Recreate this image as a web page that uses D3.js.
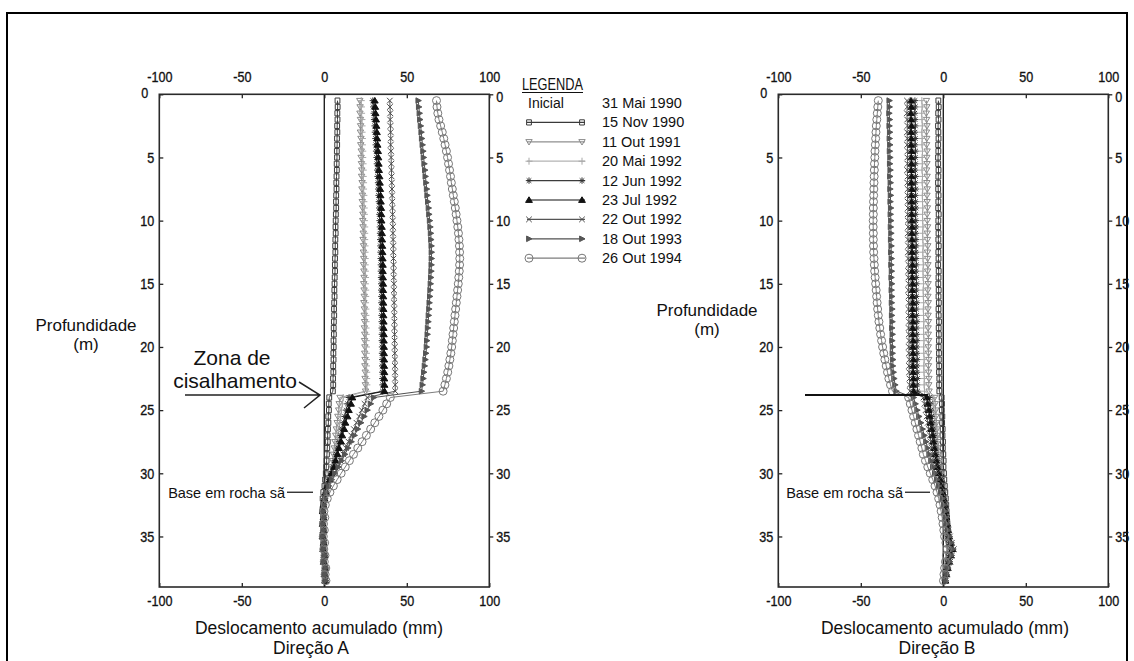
<!DOCTYPE html>
<html><head><meta charset="utf-8">
<script src="https://cdn.jsdelivr.net/npm/d3@7"></script>
<style>
body{margin:0;background:#fff;}
svg{display:block;}
</style></head><body>
<svg id="c" width="1134" height="661"></svg>
<script>
// ---------------- DATA ----------------
const depths = [0.5,1,1.5,2,2.5,3,3.5,4,4.5,5,
 5.5,6,6.5,7,7.5,8,8.5,9,9.5,10,
 10.5,11,11.5,12,12.5,13,13.5,14,14.5,15,
 15.5,16,16.5,17,17.5,18,18.5,19,19.5,20,
 20.5,21,21.5,22,22.5,23,23.5,
 24,24.5,25,25.5,26,26.5,27,27.5,28,28.5,
 29,29.5,30,30.5,31,31.5,32,32.5,33,33.5,
 34,34.5,35,35.5,36,36.5,37,37.5,38,38.5];

const seriesNames = ["15 Nov 1990","11 Out 1991","20 Mai 1992","12 Jun 1992","23 Jul 1992","22 Out 1992","18 Out 1993","26 Out 1994"];
const inicialName = "31 Mai 1990";
const inicialDepths = [0, 39];
const inicialValues = [0, 0];

const xTicks = [-100,-50,0,50,100];
const yTicks = [0,5,10,15,20,25,30,35];

// Direction A (mm)
const a_nov90 = [8.0,8.1,7.9,8.0,7.8,7.9,7.7,7.8,7.6,7.7,
 7.5,7.6,7.4,7.3,7.4,7.2,7.1,7.2,7.0,6.9,
 6.8,6.9,6.7,6.6,6.7,6.5,6.4,6.5,6.3,6.2,
 6.1,6.2,6.0,5.9,6.0,5.8,5.7,5.8,5.6,5.7,
 5.5,5.6,5.4,5.5,5.3,5.4,5.2,
 3.0,2.7,2.8,2.4,2.5,2.2,2.0,2.1,1.8,1.6,
 1.4,1.2,0.9,0.5,0.1,-0.6,-1.0,-0.7,-1.2,-0.8,
 -1.1,-0.7,-1.0,-0.5,-0.8,0.1,-0.3,0.4,0.0,0.3];
const a_out91 = [21.5,21.7,21.6,21.9,22.0,21.9,22.2,22.1,22.4,22.3,
 22.5,22.7,22.6,22.9,22.8,23.1,23.0,23.2,23.4,23.3,
 23.5,23.6,23.5,23.8,23.7,23.9,23.8,24.0,24.1,23.9,
 24.1,24.2,24.0,24.3,24.2,24.4,24.3,24.5,24.4,24.6,
 24.5,24.7,24.6,24.8,24.7,24.9,25.0,
 9.5,9.0,8.7,8.2,7.8,7.3,6.9,6.4,6.0,5.5,
 5.0,4.4,3.7,3.0,2.1,1.2,0.4,-0.2,-0.6,-0.3,
 -0.8,-0.4,-0.9,-0.3,-0.6,0.1,-0.4,0.5,0.2,0.6];
const a_mai92 = [22.4,22.5,22.6,22.8,22.9,22.9,23.1,23.1,23.3,23.3,
 23.5,23.6,23.6,23.8,23.8,24.0,24.0,24.2,24.3,24.3,
 24.5,24.5,24.5,24.7,24.7,24.8,24.8,24.9,25.0,24.9,
 25.1,25.1,25.0,25.2,25.2,25.3,25.3,25.4,25.4,25.5,
 25.5,25.6,25.6,25.7,25.7,25.8,25.9,
 11.5,11.0,10.4,9.9,9.3,8.8,8.2,7.7,7.1,6.6,
 6.0,5.3,4.5,3.6,2.6,1.5,0.5,-0.1,-0.5,-0.2,
 -0.7,-0.3,-0.8,-0.2,-0.5,0.2,-0.3,0.6,0.3,0.7];
const a_jun92 = [29.4,29.7,30.0,30.2,30.5,30.7,31.0,31.2,31.4,31.7,
 31.9,32.1,32.3,32.6,32.7,32.9,33.1,33.3,33.4,33.5,
 33.7,33.8,33.9,34.0,34.1,34.2,34.3,34.3,34.4,34.5,
 34.5,34.6,34.6,34.7,34.7,34.8,34.8,34.9,34.9,35.0,
 35.0,35.1,35.1,35.2,35.2,35.3,35.3,
 15.0,14.1,13.4,12.4,11.7,10.7,10.0,9.0,8.3,7.3,
 6.5,5.4,4.2,3.0,1.8,0.8,0.0,-0.5,-0.9,-0.4,
 -1.0,-0.5,-1.0,-0.3,-0.7,0.1,-0.4,0.5,0.2,0.6];
const a_jul92 = [30.6,30.9,31.1,31.4,31.6,31.9,32.1,32.3,32.6,32.8,
 33.0,33.2,33.5,33.7,33.9,34.1,34.3,34.5,34.6,34.7,
 34.9,35.0,35.1,35.2,35.3,35.4,35.5,35.5,35.6,35.7,
 35.7,35.8,35.8,35.9,35.9,36.0,36.0,36.1,36.1,36.2,
 36.2,36.3,36.3,36.4,36.4,36.5,36.5,
 17.0,16.2,14.9,14.1,12.8,12.1,10.9,10.2,8.9,8.1,
 6.9,5.9,4.4,3.3,1.9,0.9,0.1,-0.6,-0.9,-0.5,
 -1.0,-0.6,-1.1,-0.4,-0.7,0.0,-0.4,0.5,0.1,0.5];
const a_out92 = [39.7,39.8,40.0,39.9,40.1,40.2,40.3,40.2,40.4,40.5,
 40.6,40.7,40.8,40.9,41.0,41.1,41.2,41.3,41.4,41.5,
 41.6,41.6,41.7,41.8,41.8,41.9,42.0,42.0,42.1,42.2,
 42.2,42.3,42.3,42.4,42.4,42.5,42.5,42.6,42.6,42.7,
 42.7,42.8,42.8,42.9,42.9,43.0,43.0,
 26.0,24.4,22.7,21.1,19.5,17.9,16.3,14.7,13.1,11.5,
 9.9,8.1,6.2,4.3,2.4,1.0,0.2,-0.4,-0.8,-0.3,
 -0.9,-0.4,-1.0,-0.2,-0.6,0.2,-0.3,0.7,0.3,0.8];
const a_out93 = [57.0,57.3,57.7,58.0,58.4,58.8,59.1,59.5,59.9,60.2,
 60.6,61.0,61.3,61.7,62.1,62.4,62.8,63.2,63.5,63.9,
 64.2,64.5,64.7,64.9,65.0,65.0,64.9,64.8,64.6,64.4,
 64.2,64.0,63.7,63.5,63.2,63.0,62.7,62.5,62.2,62.0,
 61.6,61.2,60.8,60.4,60.0,59.5,59.0,
 30.0,28.1,26.1,24.2,22.2,20.3,18.3,16.4,14.4,12.5,
 10.5,8.5,6.4,4.4,2.6,1.2,0.3,-0.3,-0.7,-0.2,
 -0.8,-0.3,-0.9,-0.1,-0.5,0.3,-0.2,0.8,0.4,0.9];
const a_out94 = [68.0,68.3,68.8,69.5,70.5,71.5,72.4,73.2,74.0,74.7,
 75.3,75.9,76.5,77.0,77.6,78.2,78.8,79.4,79.9,80.4,
 80.9,81.3,81.6,81.9,82.0,82.1,82.0,81.8,81.5,81.2,
 80.8,80.4,80.0,79.6,79.2,78.8,78.4,78.0,77.6,77.2,
 76.7,76.1,75.5,74.8,74.0,73.1,72.0,
 40.0,37.8,35.5,33.1,30.6,28.1,25.5,22.9,20.3,17.7,
 15.2,12.7,10.2,7.8,5.5,3.4,1.8,0.6,-0.2,0.3,
 -0.5,0.0,-0.6,0.2,-0.3,0.4,0.0,0.9,0.5,1.0];

// Direction B (mm)
const b_nov90 = [-3.0,-2.8,-3.1,-2.9,-3.2,-3.0,-2.9,-3.1,-3.0,-3.2,
 -3.1,-2.9,-3.0,-3.2,-3.1,-2.9,-3.0,-3.1,-2.8,-3.0,
 -3.1,-2.9,-3.0,-2.8,-3.0,-2.9,-3.1,-2.8,-2.9,-3.0,
 -2.8,-2.9,-2.7,-2.9,-2.8,-2.6,-2.8,-2.7,-2.6,-2.8,
 -2.6,-2.7,-2.5,-2.6,-2.4,-2.5,-2.4,
 -1.0,-0.8,-0.9,-0.6,-0.7,-0.4,-0.5,-0.2,-0.3,0.0,
 0.2,0.1,0.4,0.6,0.9,1.2,1.5,1.8,2.0,2.3,
 2.5,2.8,3.0,3.4,3.8,3.2,2.6,2.0,1.4,1.0];
const b_out91 = [-10.2,-10.0,-10.3,-10.1,-9.9,-10.2,-10.0,-10.1,-9.8,-10.0,
 -9.9,-10.1,-9.8,-10.0,-9.7,-9.9,-9.8,-9.6,-9.8,-9.7,
 -9.5,-9.7,-9.6,-9.4,-9.6,-9.5,-9.3,-9.5,-9.4,-9.2,
 -9.4,-9.3,-9.1,-9.3,-9.2,-9.0,-9.2,-9.1,-8.9,-9.1,
 -9.0,-8.8,-9.0,-8.9,-8.7,-8.8,-8.6,
 -5.2,-4.9,-4.6,-4.4,-4.1,-3.8,-3.5,-3.3,-3.0,-2.7,
 -2.3,-1.9,-1.4,-0.9,-0.4,0.1,0.5,0.9,1.2,1.5,
 1.8,2.1,2.4,2.9,3.4,2.8,2.2,1.6,1.1,0.7];
const b_mai92 = [-13.0,-12.8,-13.1,-12.9,-12.7,-13.0,-12.8,-12.9,-12.6,-12.8,
 -12.7,-12.9,-12.6,-12.8,-12.5,-12.7,-12.6,-12.4,-12.6,-12.5,
 -12.3,-12.5,-12.4,-12.2,-12.4,-12.3,-12.1,-12.3,-12.2,-12.0,
 -12.2,-12.1,-11.9,-12.1,-12.0,-11.8,-12.0,-11.9,-11.7,-11.9,
 -11.8,-11.6,-11.8,-11.7,-11.5,-11.6,-11.4,
 -6.5,-6.1,-5.8,-5.4,-5.1,-4.7,-4.4,-4.0,-3.7,-3.3,
 -2.8,-2.3,-1.8,-1.2,-0.6,0.0,0.5,1.0,1.3,1.7,
 2.0,2.4,2.8,3.4,4.0,3.3,2.6,1.9,1.3,0.9];
const b_jun92 = [-17.2,-17.0,-17.3,-17.1,-16.9,-17.2,-17.0,-17.1,-16.8,-17.0,
 -16.9,-17.1,-16.8,-17.0,-16.7,-16.9,-16.8,-16.6,-16.8,-16.7,
 -16.5,-16.7,-16.6,-16.4,-16.6,-16.5,-16.3,-16.5,-16.4,-16.2,
 -16.4,-16.3,-16.1,-16.3,-16.2,-16.0,-16.2,-16.1,-15.9,-16.1,
 -16.0,-15.8,-16.0,-15.9,-15.7,-15.8,-15.6,
 -8.5,-8.0,-7.6,-7.1,-6.7,-6.2,-5.8,-5.3,-4.9,-4.4,
 -3.8,-3.2,-2.5,-1.8,-1.1,-0.4,0.2,0.8,1.2,1.6,
 2.0,2.5,3.0,3.8,4.6,3.8,3.0,2.2,1.5,1.0];
const b_jul92 = [-19.6,-19.4,-19.7,-19.5,-19.3,-19.6,-19.4,-19.5,-19.2,-19.4,
 -19.3,-19.5,-19.2,-19.4,-19.1,-19.3,-19.2,-19.0,-19.2,-19.1,
 -18.9,-19.1,-19.0,-18.8,-19.0,-18.9,-18.7,-18.9,-18.8,-18.6,
 -18.8,-18.7,-18.5,-18.7,-18.6,-18.4,-18.6,-18.5,-18.3,-18.5,
 -18.4,-18.2,-18.4,-18.3,-18.1,-18.2,-18.0,
 -10.0,-9.5,-8.9,-8.4,-7.8,-7.3,-6.7,-6.2,-5.6,-5.1,
 -4.4,-3.7,-2.9,-2.1,-1.3,-0.5,0.2,0.9,1.4,1.9,
 2.4,3.0,3.6,4.6,5.6,4.6,3.6,2.7,1.9,1.3];
const b_out92 = [-22.0,-21.8,-22.1,-21.9,-21.7,-22.0,-21.8,-21.9,-21.6,-21.8,
 -21.7,-21.9,-21.6,-21.8,-21.5,-21.7,-21.6,-21.4,-21.6,-21.5,
 -21.3,-21.5,-21.4,-21.2,-21.4,-21.3,-21.1,-21.3,-21.2,-21.0,
 -21.2,-21.1,-20.9,-21.1,-21.0,-20.8,-21.0,-20.9,-20.7,-20.9,
 -20.8,-20.6,-20.8,-20.7,-20.5,-20.4,-20.2,
 -12.0,-11.4,-10.7,-10.1,-9.4,-8.8,-8.1,-7.5,-6.8,-6.2,
 -5.4,-4.5,-3.6,-2.6,-1.6,-0.7,0.1,0.8,1.4,1.9,
 2.5,3.2,4.0,5.2,6.4,5.3,4.2,3.1,2.2,1.5];
const b_out93 = [-32.7,-32.6,-32.8,-32.5,-32.7,-32.4,-32.6,-32.3,-32.5,-32.2,
 -32.4,-32.1,-32.3,-32.0,-32.2,-31.9,-32.1,-31.8,-32.0,-31.7,
 -31.9,-31.6,-31.8,-31.5,-31.7,-31.4,-31.6,-31.3,-31.5,-31.2,
 -31.4,-31.1,-31.3,-31.0,-31.2,-30.9,-31.1,-30.8,-31.0,-30.7,
 -30.8,-30.5,-30.6,-30.2,-29.8,-29.2,-28.5,
 -18.0,-16.9,-15.8,-14.7,-13.6,-12.6,-11.5,-10.5,-9.5,-8.5,
 -7.4,-6.3,-5.1,-3.9,-2.7,-1.5,-0.5,0.4,1.1,1.7,
 2.3,3.0,3.8,4.9,6.0,5.0,3.9,2.9,2.0,1.4];
const b_out94 = [-39.4,-39.7,-40.0,-40.3,-40.6,-40.8,-41.0,-41.2,-41.4,-41.5,
 -41.7,-41.8,-41.9,-42.0,-42.1,-42.2,-42.3,-42.4,-42.4,-42.5,
 -42.5,-42.4,-42.4,-42.3,-42.2,-42.0,-41.8,-41.6,-41.3,-41.0,
 -40.7,-40.4,-40.1,-39.8,-39.4,-39.0,-38.5,-38.0,-37.4,-36.8,
 -36.1,-35.4,-34.6,-33.8,-33.0,-32.0,-30.8,
 -21.0,-20.0,-19.0,-18.0,-17.0,-16.0,-15.0,-14.0,-13.0,-12.1,
 -10.8,-9.4,-7.9,-6.4,-5.0,-3.8,-2.8,-2.0,-1.3,-0.7,
 -0.2,0.3,0.8,1.6,2.4,1.9,1.3,0.8,0.4,0.1];

const seriesA = [a_nov90,a_out91,a_mai92,a_jun92,a_jul92,a_out92,a_out93,a_out94];
const seriesB = [b_nov90,b_out91,b_mai92,b_jun92,b_jul92,b_out92,b_out93,b_out94];

// ---------------- STYLE ----------------
const styles = [
  {marker:"square",  line:"#3a3a3a", mk:"#3a3a3a", fill:"none"},
  {marker:"tridown", line:"#8f8f8f", mk:"#8a8a8a", fill:"none"},
  {marker:"plus",    line:"#b3b3b3", mk:"#a8a8a8", fill:"none"},
  {marker:"star",    line:"#3c3c3c", mk:"#333",    fill:"none"},
  {marker:"triup",   line:"#111",    mk:"#111",    fill:"#111"},
  {marker:"cross",   line:"#555",    mk:"#4a4a4a", fill:"none"},
  {marker:"triright",line:"#505050", mk:"#555",    fill:"#555"},
  {marker:"circle",  line:"#7d7d7d", mk:"#777",    fill:"none"}
];
function markerPath(t){
  switch(t){
    case "square": return "M-2.4,-2.6H2.4V2.6H-2.4Z";
    case "tridown": return "M-3.2,-2.2H3.2L0,3.2Z";
    case "plus": return "M-3.5,0H3.5M0,-3.5V3.5";
    case "star": return "M-3.2,0H3.2M0,-3.2V3.2M-2.3,-2.3L2.3,2.3M-2.3,2.3L2.3,-2.3";
    case "triup": return "M-3.4,2.4H3.4L0,-3.2Z";
    case "cross": return "M-2.8,-2.8L2.8,2.8M-2.8,2.8L2.8,-2.8";
    case "triright": return "M-2.4,-2.8L3,0L-2.4,2.8Z";
    case "circle": return "M4,0A4,4 0 1,1 -4,0A4,4 0 1,1 4,0Z";
  }
}

const svg = d3.select("#c");
const FONT = "'Liberation Sans',Arial,Helvetica,sans-serif";

// narrow text helper (condensed look of the original tick labels)
function condense(sel, k){
  sel.each(function(){
    const w = this.getComputedTextLength();
    d3.select(this).attr("textLength", (w*k).toFixed(1)).attr("lengthAdjust","spacingAndGlyphs");
  });
}

// outer frame
svg.append("rect").attr("x",7).attr("y",13).attr("width",1120).attr("height",700)
  .attr("fill","none").attr("stroke","#000").attr("stroke-width",2);

function panel(x0, x1, data, opts){
  const x = d3.scaleLinear().domain([-100,100]).range([x0,x1]);
  const y = d3.scaleLinear().domain([0,39]).range([94.3,587]);
  const g = svg.append("g");
  const fmt = d => String(d);
  function styleAxis(sel){
    sel.select(".domain").remove();
    sel.selectAll(".tick line").attr("stroke","#222").attr("stroke-width",1.3);
    sel.selectAll(".tick text").attr("fill","#111").attr("stroke","#111").attr("stroke-width",0.35)
      .style("font-family",FONT).style("font-size","15px");
  }
  const topAx = g.append("g").attr("transform",`translate(0,${y(0)})`)
    .call(d3.axisTop(x).tickValues(xTicks).tickFormat(fmt).tickSizeInner(-4).tickSizeOuter(0).tickPadding(12)).call(styleAxis);
  const botAx = g.append("g").attr("transform",`translate(0,${y(39)})`)
    .call(d3.axisBottom(x).tickValues(xTicks).tickFormat(fmt).tickSizeInner(-4).tickSizeOuter(0).tickPadding(8)).call(styleAxis);
  const left = g.append("g").attr("transform",`translate(${x0},0)`)
    .call(d3.axisLeft(y).tickValues(yTicks).tickFormat(fmt).tickSizeInner(-4).tickSizeOuter(0).tickPadding(5)).call(styleAxis);
  const right = g.append("g").attr("transform",`translate(${x1},0)`)
    .call(d3.axisRight(y).tickValues(yTicks).tickFormat(fmt).tickSizeInner(4).tickSizeOuter(0).tickPadding(3)).call(styleAxis);
  [topAx,botAx,left,right].forEach(a=>condense(a.selectAll(".tick text"),0.84));
  // the "0" depth labels at the corners sit slightly off the tick, like the original
  left.selectAll(".tick text").filter(d=>d===0).attr("x",-11).attr("dy","0.2em");
  right.selectAll(".tick text").filter(d=>d===0).attr("dy","0.45em");
  // box
  g.append("rect").attr("x",x0).attr("y",y(0)).attr("width",x1-x0).attr("height",y(39)-y(0))
    .attr("fill","none").attr("stroke","#2a2a2a").attr("stroke-width",1.6);

  const plot = g.append("g");
  const line = d3.line().x(p=>x(p[0])).y(p=>y(p[1]));
  // inicial
  plot.append("path").datum(inicialDepths.map((d,i)=>[inicialValues[i],d]))
    .attr("d", line).attr("fill","none").attr("stroke","#222").attr("stroke-width",1.4);
  data.forEach((vals,si)=>{
    const st = styles[si];
    const pts = vals.map((v,i)=>[v,depths[i]]);
    plot.append("path").datum(pts).attr("d",line).attr("fill","none")
      .attr("stroke",st.line).attr("stroke-width",1);
  });
  data.forEach((vals,si)=>{
    const st = styles[si];
    const pts = vals.map((v,i)=>[v,depths[i]]);
    plot.append("g").selectAll("path").data(pts).join("path")
      .attr("transform",p=>`translate(${x(p[0])},${y(p[1])})`)
      .attr("d",markerPath(st.marker))
      .attr("fill",st.fill).attr("stroke",st.mk).attr("stroke-width",1);
  });

  // axis titles
  g.append("text").attr("x",opts.titleX).attr("y",634).attr("text-anchor","middle")
    .style("font-family",FONT).style("font-size","17.5px").attr("fill","#111").text("Deslocamento acumulado (mm)");
  g.append("text").attr("x",opts.dirX).attr("y",654).attr("text-anchor","middle")
    .style("font-family",FONT).style("font-size","17.5px").attr("fill","#111").text(opts.dir);
  g.append("text").attr("x",opts.profX).attr("y",opts.profY).attr("text-anchor","middle")
    .style("font-family",FONT).style("font-size","17px").attr("fill","#111").text("Profundidade");
  g.append("text").attr("x",opts.profX).attr("y",opts.profY+19).attr("text-anchor","middle")
    .style("font-family",FONT).style("font-size","17px").attr("fill","#111").text("(m)");
  // base em rocha sã
  g.append("text").attr("x",opts.baseTextX).attr("y",498).attr("text-anchor","end")
    .style("font-family",FONT).style("font-size","14.5px").attr("fill","#111").text("Base em rocha sã");
  g.append("line").attr("x1",opts.baseTextX+2).attr("x2",opts.baseLineX2).attr("y1",y(31.5)).attr("y2",y(31.5))
    .attr("stroke","#222").attr("stroke-width",1.3);
  return {x,y,g};
}

const A = panel(159.3, 489.3, seriesA, {titleX:319, dirX:311, dir:"Direção A", profX:86, profY:331, baseTextX:285, baseLineX2:313});
const B = panel(778.3, 1108.3, seriesB, {titleX:945, dirX:937, dir:"Direção B", profX:707, profY:316, baseTextX:903, baseLineX2:930});

// Shear zone annotation (A)
const ann = svg.append("g");
ann.append("text").attr("x",232).attr("y",365).attr("text-anchor","middle")
  .style("font-family",FONT).style("font-size","21px").attr("fill","#111").text("Zona de");
ann.append("text").attr("x",235).attr("y",388).attr("text-anchor","middle")
  .style("font-family",FONT).style("font-size","21px").attr("fill","#111").text("cisalhamento");
ann.append("path").attr("d","M185,395H320M299,382L320,395L304,408")
  .attr("fill","none").attr("stroke","#222").attr("stroke-width",1.5);
// shear line (B)
ann.append("line").attr("x1",805).attr("x2",928).attr("y1",395).attr("y2",395)
  .attr("stroke","#111").attr("stroke-width",1.8);

// Legend
const leg = svg.append("g");
leg.append("text").attr("x",522).attr("y",90).style("font-family",FONT).style("font-size","16px")
  .attr("fill","#111").attr("textLength",61).attr("lengthAdjust","spacingAndGlyphs").text("LEGENDA");
leg.append("line").attr("x1",522).attr("x2",583).attr("y1",92.5).attr("y2",92.5).attr("stroke","#111").attr("stroke-width",1);
const rowY0 = 103, rowStep = 19.4;
leg.append("text").attr("x",528).attr("y",rowY0+5).style("font-family",FONT).style("font-size","14px").attr("fill","#111").text("Inicial");
leg.append("text").attr("x",602).attr("y",rowY0+5).style("font-family",FONT).style("font-size","14.5px").attr("fill","#111").text(inicialName);
seriesNames.forEach((name,i)=>{
  const yy = rowY0 + rowStep*(i+1);
  const st = styles[i];
  leg.append("line").attr("x1",527).attr("x2",585).attr("y1",yy).attr("y2",yy).attr("stroke",st.line).attr("stroke-width",1.2);
  [529,582].forEach(xx=>{
    leg.append("path").attr("transform",`translate(${xx},${yy})`).attr("d",markerPath(st.marker))
      .attr("fill",st.fill).attr("stroke",st.mk).attr("stroke-width",1);
  });
  leg.append("text").attr("x",602).attr("y",yy+5).style("font-family",FONT).style("font-size","14.5px").attr("fill","#111").text(name);
});
</script>
</body></html>
